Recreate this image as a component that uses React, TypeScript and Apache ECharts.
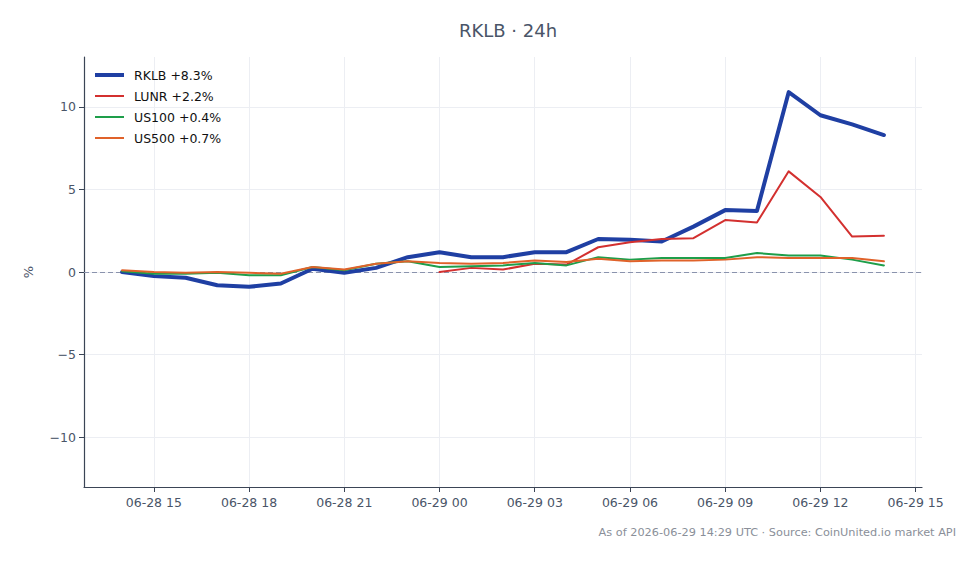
import React, { useEffect, useRef } from "react";
import * as echarts from "echarts";

// hours since 06-28 00:00 UTC
const hours = [14, 15, 16, 17, 18, 19, 20, 21, 22, 23, 24, 25, 26, 27, 28, 29, 30, 31, 32, 33, 34, 35, 36, 37, 38];
const rklb = [0, -0.25, -0.35, -0.8, -0.9, -0.7, 0.2, -0.05, 0.25, 0.9, 1.2, 0.9, 0.9, 1.2, 1.2, 2.0, 1.95, 1.85, 2.75, 3.75, 3.7, 10.9, 9.5, 8.95, 8.3];
const lunr = [null, null, null, null, null, null, null, null, null, null, 0, 0.25, 0.15, 0.5, 0.45, 1.5, 1.8, 2.0, 2.05, 3.15, 3.0, 6.1, 4.55, 2.15, 2.2];
const us100 = [0.05, -0.1, -0.1, -0.05, -0.2, -0.2, 0.3, 0.1, 0.5, 0.65, 0.3, 0.35, 0.4, 0.55, 0.4, 0.9, 0.75, 0.85, 0.85, 0.85, 1.15, 1.0, 1.0, 0.75, 0.4];
const us500 = [0.1, 0.0, -0.05, 0.0, -0.05, -0.1, 0.3, 0.15, 0.5, 0.65, 0.55, 0.5, 0.55, 0.7, 0.6, 0.8, 0.65, 0.7, 0.7, 0.75, 0.9, 0.85, 0.85, 0.85, 0.65];
const seriesNames = ["RKLB +8.3%", "LUNR +2.2%", "US100 +0.4%", "US500 +0.7%"];
const xTicks = [15, 18, 21, 24, 27, 30, 33, 36, 39];
const yTicks = [-10, -5, 0, 5, 10];

const FONT = "DejaVu Sans";

function fmtHour(v: number): string {
  const day = v >= 24 ? "06-29" : "06-28";
  const h = Math.round(v) % 24;
  return `${day} ${h < 10 ? "0" + h : h}`;
}

export default function App() {
  const ref = useRef<HTMLDivElement>(null);
  useEffect(() => {
    if (!ref.current) return;
    const chart = echarts.init(ref.current, null, { renderer: "svg" });
    const mk = (vals: (number | null)[]) => hours.map((h, i) => [h, vals[i]]);
    const colors = ["#1f3fa3", "#d3302f", "#1e9e4a", "#e0622a"];
    const widths = [4, 2, 2, 2];
    const datas = [rklb, lunr, us100, us500];
    const series: any[] = [0, 1, 2, 3].map((k) => ({
      name: seriesNames[k],
      type: "line",
      data: mk(datas[k]),
      symbol: "none",
      z: 5 + k,
      lineStyle: { color: colors[k], width: widths[k], join: "round", cap: "round" },
      itemStyle: { color: colors[k] },
      connectNulls: false,
    }));
    series.push({
      type: "line",
      data: [],
      silent: true,
      z: 1,
      markLine: {
        symbol: "none",
        silent: true,
        label: { show: false },
        lineStyle: { color: "#8a93ad", type: [5, 3], width: 1 },
        data: [{ yAxis: 0 }],
      },
    });
    const legendGraphics: any[] = [];
    seriesNames.forEach((n, i) => {
      const y = 75 + i * 21;
      legendGraphics.push({
        type: "line",
        shape: { x1: 95, y1: y, x2: 124, y2: y },
        style: { stroke: colors[i], lineWidth: widths[i] },
        z: 100,
      });
      legendGraphics.push({
        type: "text",
        x: 134,
        y: y,
        z: 100,
        style: {
          text: n,
          font: `12.5px ${FONT}`,
          fill: "#111111",
          verticalAlign: "middle",
        },
      });
    });
    chart.setOption({
      animation: false,
      backgroundColor: "#ffffff",
      title: {
        text: "RKLB · 24h",
        left: 503,
        textAlign: "center",
        top: 16,
        textStyle: { fontFamily: FONT, fontSize: 18, fontWeight: "normal", color: "#4a5568" },
      },
      graphic: [
        ...legendGraphics,
        {
          type: "text",
          right: 23,
          top: 527,
          style: {
            text: "As of 2026-06-29 14:29 UTC · Source: CoinUnited.io market API",
            font: `11.3px ${FONT}`,
            fill: "#8a8f99",
          },
        },
      ],
      grid: { left: 84, right: 57, top: 57, bottom: 77 },
      xAxis: {
        type: "value",
        min: 12.8,
        max: 39.2,
        axisLine: { show: true, onZero: false, lineStyle: { color: "#3b4556", width: 1.2 } },
        axisTick: { show: true, customValues: xTicks, length: 5, lineStyle: { color: "#3b4556" } },
        axisLabel: {
          customValues: xTicks,
          formatter: (v: number) => fmtHour(v),
          fontFamily: FONT,
          fontSize: 12.5,
          color: "#4a5568",
          margin: 9,
        },
        splitLine: { show: true, lineStyle: { color: "#eceef3", width: 1 } },
      },
      yAxis: {
        type: "value",
        min: -13.03,
        max: 13.03,
        name: "%",
        nameLocation: "middle",
        nameGap: 49,
        nameRotate: 90,
        nameTextStyle: { fontFamily: FONT, fontSize: 13, color: "#4a5568" },
        axisLine: { show: true, onZero: false, lineStyle: { color: "#3b4556", width: 1.2 } },
        axisTick: { show: true, customValues: yTicks, length: 5, lineStyle: { color: "#3b4556" } },
        axisLabel: {
          customValues: yTicks,
          formatter: (v: number) => (v < 0 ? "\u2212" + Math.abs(v) : String(v)),
          fontFamily: FONT,
          fontSize: 12.5,
          color: "#4a5568",
          margin: 8,
        },
        splitLine: { show: true, lineStyle: { color: "#eceef3", width: 1 } },
      },
      series,
    });
    return () => chart.dispose();
  }, []);
  return <div ref={ref} style={{ width: 979, height: 564, position: "absolute", left: 0, top: 0 }} />;
}
